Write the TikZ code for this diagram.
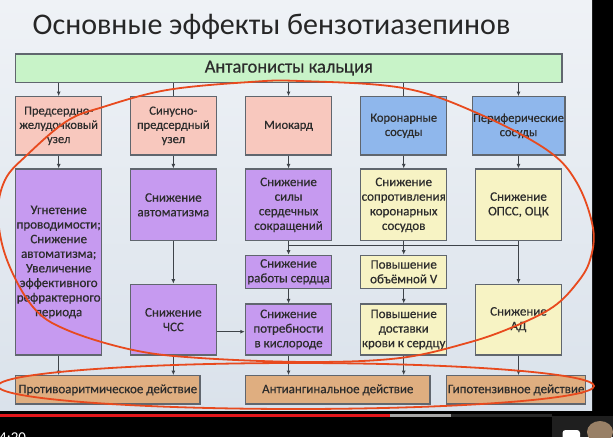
\documentclass[tikz,border=0pt]{standalone}
\usepackage{fontspec}
\setmainfont{Carlito}
\newfontfamily\boxfont{Carlito}[FakeBold=0.45]
\usetikzlibrary{arrows.meta}
\definecolor{bgtop}{HTML}{EFF2F6}
\definecolor{bgbot}{HTML}{DAE2EB}
\definecolor{bordc}{HTML}{60666E}
\definecolor{linec}{HTML}{3E4349}
\definecolor{txtc}{HTML}{2C2C2C}
\definecolor{greenc}{HTML}{C8F3C8}
\definecolor{pinkc}{HTML}{F8C8BE}
\definecolor{bluec}{HTML}{8FB7EC}
\definecolor{purplec}{HTML}{C69AF0}
\definecolor{yellowc}{HTML}{F7F3C4}
\definecolor{orangec}{HTML}{DFAE80}
\definecolor{redl}{HTML}{E84A1E}
\definecolor{progred}{HTML}{E3151A}
\tikzset{
  box/.style={draw=bordc, line width=1.2pt, text=txtc, align=center, inner sep=1pt,
    minimum width=86.3pt, font=\boxfont\fontsize{12.5}{14.2}\selectfont},
  bigbox/.style={box, font=\boxfont\fontsize{13}{14.6}\selectfont},
  botbox/.style={box, minimum height=28.3pt, fill=orangec, font=\boxfont\fontsize{13}{14.6}\selectfont},
  arr/.style={draw=linec, line width=0.9pt, -{Latex[length=4.5pt,width=4pt]}},
  ln/.style={draw=linec, line width=0.9pt},
  redline/.style={draw=redl, line width=1.8pt}
}
\begin{document}
\begin{tikzpicture}[x=1pt,y=-1pt]
\clip (0,0) rectangle (613,437);
\useasboundingbox (0,0) rectangle (613,437);
% video frame
\fill[black] (0,0) rectangle (613,437);
\fill[top color=bgtop, bottom color=bgbot] (0,0) rectangle (592,410);
\fill[progred] (0,413.5) rectangle (390,416.5);
\fill[gray!70] (390,413.5) rectangle (451,416.5);
\fill[gray!30!black] (451,413.5) rectangle (552,416.5);
\fill[black!88] (552,416) rectangle (613,437);
\fill[white, rounded corners=3pt] (562.5,430) rectangle (580,445);
\fill[gray!60!brown] (600,432) ellipse [x radius=13pt, y radius=11pt];
\node[anchor=base west, text=white, inner sep=0pt, font=\fontsize{15}{15}\selectfont] (time) at (-1,442) {4:20};

% title
\node[anchor=base, inner sep=0pt, text=black!85, font=\fontsize{30}{30}\selectfont] (title) at (271.5,34.3) {Основные эффекты бензотиазепинов};

% top box
\node[box, fill=greenc, minimum width=546.5pt, minimum height=28.3pt, font=\boxfont\fontsize{18.5}{20}\selectfont] (ant) at (288.75,68.15) {Антагонисты кальция};

% row 1
\node[box, fill=pinkc, minimum height=58.3pt] (p1) at (58.7,125.85) {Предсердно-\\желудочковый\\узел};
\node[box, fill=pinkc, minimum height=58.3pt] (p2) at (173.35,125.85) {Синусно-\\предсердный\\узел};
\node[box, fill=pinkc, minimum height=58.3pt] (p3) at (288.55,125.85) {Миокард};
\node[box, fill=bluec, minimum height=58.3pt] (p4) at (403.7,125.85) {Коронарные\\сосуды};
\node[box, fill=bluec, minimum height=58.3pt] (p5) at (518.5,125.85) {Периферические\\сосуды};

% row 2
\node[bigbox, fill=purplec, minimum height=186pt] (a1) at (58.7,262) {Угнетение\\проводимости;\\Снижение\\автоматизма;\\Увеличение\\эффективного\\рефрактерного\\периода};
\node[bigbox, fill=purplec, minimum height=71.7pt] (a2) at (173.35,204.85) {Снижение\\автоматизма};
\node[bigbox, fill=purplec, minimum height=70.7pt] (b2) at (173.35,319.65) {Снижение\\ЧСС};
\node[bigbox, fill=purplec, minimum height=71.7pt] (a3) at (288.55,204.85) {Снижение\\силы\\сердечных\\сокращений};
\node[bigbox, fill=purplec, minimum height=33pt] (b3) at (288.55,271.8) {Снижение\\работы сердца};
\node[bigbox, fill=purplec, minimum height=51pt] (c3) at (288.55,329.5) {Снижение\\потребности\\в кислороде};
\node[bigbox, fill=yellowc, minimum height=71.7pt] (a4) at (403.7,204.85) {Снижение\\сопротивления\\коронарных\\сосудов};
\node[bigbox, fill=yellowc, minimum height=33pt] (b4) at (403.7,271.8) {Повышение\\объёмной V};
\node[bigbox, fill=yellowc, minimum height=51pt] (c4) at (403.7,329.5) {Повышение\\доставки\\крови к сердцу};
\node[bigbox, fill=yellowc, minimum height=71.7pt] (a5) at (518.5,204.85) {Снижение\\ОПСС, ОЦК};
\node[bigbox, fill=yellowc, minimum height=70.7pt] (b5) at (518.5,319.65) {Снижение\\АД};

% bottom row
\node[botbox, minimum width=184.4pt] (e1) at (107.8,389.85) {Противоаритмическое действие};
\node[botbox, minimum width=184.5pt] (e2) at (337.75,389.85) {Антиангинальное действие};
\node[botbox, minimum width=138.7pt] (e3) at (516.15,389.85) {Гипотензивное действие};

% connectors from top box
\draw[arr] (ant.south -| p1) -- (p1);
\draw[ln] (ant.south -| p2) -- (p2);
\draw[arr] (ant.south -| p3) -- (p3);
\draw[ln] (ant.south -| p4) -- (p4);
\draw[arr] (ant.south -| p5) -- (p5);
% row1 -> row2
\draw[arr] (p1) -- (a1);
\draw[arr] (p2) -- (a2);
\draw[arr] (p3) -- (a3);
\draw[arr] (p4) -- (a4);
\draw[arr] (p5) -- (a5);
% within columns
\draw[arr] (a2) -- (b2);
\draw[arr] (a3) -- (b3);
\draw[arr] (b3) -- (c3);
\draw[arr] (a4) -- (b4);
\draw[arr] (b4) -- (c4);
\draw[arr] (a5) -- (b5);
\coordinate (busy) at (0,245.3);
\draw[ln] (a3.south |- busy) -- (a5.south |- busy);
\coordinate (hy) at (0,331.7);
\draw[arr] (b2.east |- hy) -- (c3.west |- hy);
% row2 -> bottom
\draw[arr] (a1) -- (e1.north -| a1);
\draw[arr] (b2) -- (e1.north -| b2);
\draw[arr] (c3) -- (e2.north -| c3);
\draw[arr] (c4) -- (e2.north -| c4);
\draw[arr] (b5) -- (e3.north -| b5);

% red hand-drawn ellipses
\draw[redline] plot[smooth cycle, tension=0.6] coordinates {(-2,215) (5,180) (27,155) (67,121) (103,107) (167,90) (250,82) (300,81) (403,88) (477,113) (547,150) (577,183) (593,228) (590,260) (577,283) (553,307) (513,327) (467,343) (400,358) (310,362) (200,358) (133,350) (67,330) (33,307) (7,260)};
\draw[redline] (296,386) ellipse [x radius=298pt, y radius=23pt];
\end{tikzpicture}
\end{document}
